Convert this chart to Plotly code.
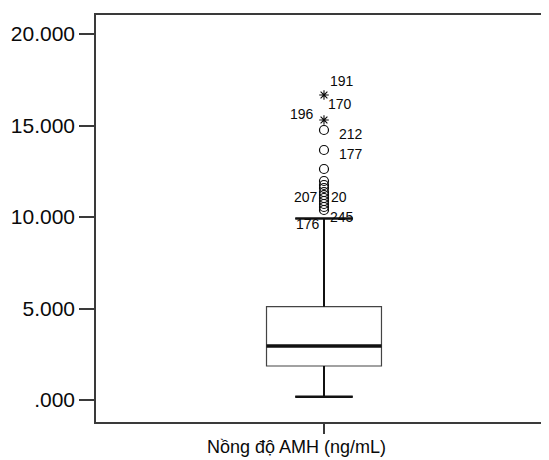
import plotly.graph_objects as go

# ---- data ----
category = "Nồng độ AMH (ng/mL)"
q1 = 1858
median = 2951
q3 = 5098
lower_whisker = 180
upper_whisker = 9918
outliers = [14754, 13661, 12623, 11967, 11749, 11585, 11366, 11202,
            11038, 10874, 10710, 10546, 10383]
extremes = [16667, 15301]
tick_vals = [0, 5000, 10000, 15000, 20000]
tick_text = [".000", "5.000", "10.000", "15.000", "20.000"]

# case labels: (text, value it belongs to, x-shift px, y-shift px)
case_labels = [
    ("191", extremes[0], 18, 14),
    ("170", extremes[0], 16, -9),
    ("196", extremes[1], -22, 6),
    ("212", outliers[0], 27, -4),
    ("177", outliers[1], 27, -4),
    ("207", outliers[8], -18, 1),
    ("20", outliers[8], 15, 1),
    ("176", upper_whisker, -16, -5),
    ("245", upper_whisker, 18, 2),
]

BOX_W = 1.0
X0 = 0.0
INK = "#0a0a0a"
AXIS = "#3a3a3a"
FONT = "Liberation Sans, Arial, sans-serif"

fig = go.Figure()

fig.add_trace(go.Box(
    x=[X0], q1=[q1], median=[median], q3=[q3],
    lowerfence=[lower_whisker], upperfence=[upper_whisker],
    width=BOX_W, whiskerwidth=0.5, boxpoints=False,
    fillcolor="white", line=dict(color="#444444", width=1.2),
    hoverinfo="skip", showlegend=False,
))

# thicker median line
fig.add_trace(go.Scatter(
    x=[X0 - BOX_W / 2, X0 + BOX_W / 2], y=[median, median],
    mode="lines", line=dict(color="#111111", width=3.5),
    showlegend=False, hoverinfo="skip",
))
# thicker whiskers and caps
for a, b in [(q3, upper_whisker), (q1, lower_whisker)]:
    fig.add_trace(go.Scatter(
        x=[X0, X0], y=[a, b], mode="lines",
        line=dict(color="#111111", width=2), showlegend=False, hoverinfo="skip"))
    fig.add_trace(go.Scatter(
        x=[X0 - BOX_W / 4, X0 + BOX_W / 4], y=[b, b], mode="lines",
        line=dict(color="#111111", width=2.4), showlegend=False, hoverinfo="skip"))

fig.add_trace(go.Scatter(
    x=[X0] * len(outliers), y=outliers, mode="markers",
    marker=dict(symbol="circle-open", size=9, color=INK, line=dict(width=1.2)),
    showlegend=False, hoverinfo="skip",
))
fig.add_trace(go.Scatter(
    x=[X0] * len(extremes), y=extremes, mode="markers",
    marker=dict(symbol="asterisk-open", size=8, color=INK, line=dict(width=1.1)),
    showlegend=False, hoverinfo="skip",
))

for txt, val, dx, dy in case_labels:
    fig.add_annotation(x=X0, y=val, xref="x", yref="y", text=txt,
                       showarrow=False, xshift=dx, yshift=dy,
                       font=dict(family=FONT, size=14, color=INK))

fig.add_annotation(x=0.4437, y=0, xref="paper", yref="paper", text=category,
                   showarrow=False, yanchor="top", yshift=-13,
                   font=dict(family=FONT, size=18, color=INK))

# the page body has an 8px margin, so the figure is made 8px smaller
fig.update_layout(
    width=541, height=452,
    margin=dict(l=88, r=0, t=7, b=38),
    paper_bgcolor="white", plot_bgcolor="white",
    font=dict(family=FONT, color=INK),
    xaxis=dict(range=[-1.983, 1.957], showgrid=False, zeroline=False,
               showline=True, linecolor=AXIS, linewidth=1.5, mirror=True,
               tickvals=[X0], ticktext=[""], ticks="outside", ticklen=10,
               tickcolor=AXIS, tickwidth=1.5),
    yaxis=dict(range=[-1202, 21038], showgrid=False, zeroline=False,
               showline=True, linecolor=AXIS, linewidth=1.5,
               tickvals=tick_vals, ticktext=tick_text, ticks="outside",
               ticklen=15, tickcolor=AXIS, tickwidth=1.5,
               tickfont=dict(family=FONT, size=21, color=INK)),
)

fig.write_html("out.html")
